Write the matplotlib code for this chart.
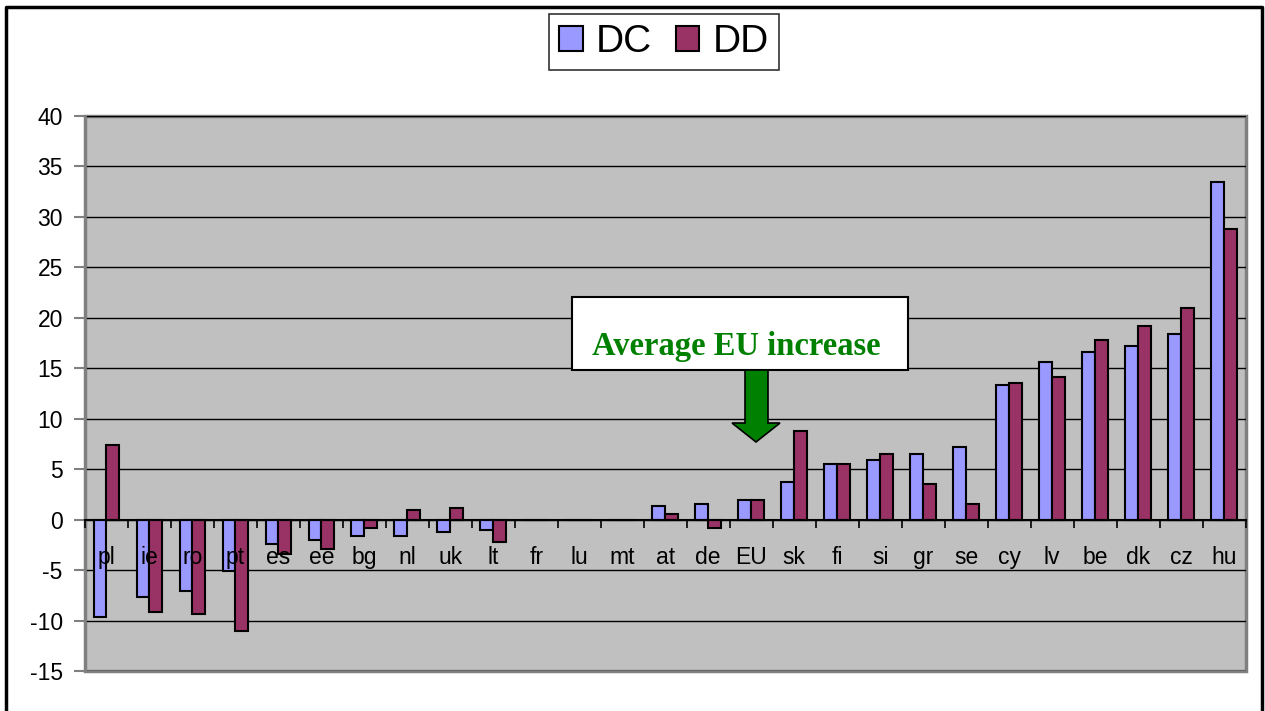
import numpy as np
import matplotlib
matplotlib.use("Agg")
import matplotlib.pyplot as plt
from matplotlib.patches import Rectangle, Polygon

plt.rcParams["axes.unicode_minus"] = False

# data
countries = ["pl", "ie", "ro", "pt", "es", "ee", "bg", "nl", "uk", "lt", "fr", "lu", "mt",
             "at", "de", "EU", "sk", "fi", "si", "gr", "se", "cy", "lv", "be", "dk", "cz", "hu"]
dc = [-9.6, -7.7, -7.1, -5.1, -2.4, -2.0, -1.6, -1.6, -1.2, -1.0, 0, 0, 0,
      1.35, 1.55, 1.95, 3.7, 5.5, 5.9, 6.5, 7.2, 13.3, 15.6, 16.6, 17.2, 18.4, 33.5]
dd = [7.4, -9.2, -9.4, -11.0, -3.4, -2.9, -0.8, 1.0, 1.2, -2.2, 0, 0, 0,
      0.56, -0.8, 1.95, 8.8, 5.5, 6.5, 3.5, 1.55, 13.5, 14.1, 17.8, 19.2, 21.0, 28.8]
series_names = ["DC", "DD"]
yticks = list(range(-15, 41, 5))
note = "Average EU increase"

W, H = 1265, 711
fig = plt.figure(figsize=(W / 100, H / 100), dpi=100)
fig.patch.set_facecolor("white")

def fx(px):
    return px / W

def fy(py):
    return 1 - py / H

ax = fig.add_axes([fx(85), fy(671), fx(1245.5) - fx(85), fy(116) - fy(671)])
ax.set_facecolor("#C0C0C0")
ax.patch.set_edgecolor("#808080")
ax.patch.set_linewidth(2.5)

x = np.arange(len(countries))
w = 0.3
ax.bar(x - w / 2, dc, w, color="#9999FF", edgecolor="black", linewidth=1.5, label=series_names[0], zorder=1)
ax.bar(x + w / 2, dd, w, color="#993366", edgecolor="black", linewidth=1.5, label=series_names[1], zorder=1)

ax.set_xlim(-0.5, len(countries) - 0.5)
ax.set_ylim(-15, 40)
ax.set_yticks(yticks)
ax.yaxis.grid(True, color="black", linewidth=1)
ax.yaxis.set_zorder(0.5)
ax.xaxis.set_zorder(3)

for s in ["top", "right"]:
    ax.spines[s].set_visible(False)
ax.spines["left"].set_color("#808080")
ax.spines["left"].set_linewidth(2)
ax.spines["bottom"].set_position(("data", 0))
ax.spines["bottom"].set_color("black")
ax.spines["bottom"].set_linewidth(1.5)

ax.set_xticks(x)
ax.set_xticklabels(countries, fontsize=16.5, family="Liberation Sans")
ax.set_xticks(np.arange(len(countries) + 1) - 0.5, minor=True)
ax.tick_params(axis="x", which="major", length=0, pad=19)
ax.tick_params(axis="x", which="minor", length=6, width=1.2, color="black", direction="out")
ax.tick_params(axis="y", length=8, width=1.5, color="#808080", pad=8, labelsize=16.5)
for lab in ax.get_yticklabels():
    lab.set_family("Liberation Sans")

leg = fig.legend(loc="center", bbox_to_anchor=(fx(664), fy(42)), ncol=2,
                 prop={"family": "Liberation Sans", "size": 28}, frameon=True, fancybox=False,
                 handlelength=0.6, handleheight=0.6, handletextpad=0.35, columnspacing=0.6,
                 borderpad=0.25, borderaxespad=0)
leg.get_frame().set_edgecolor("black")
leg.get_frame().set_linewidth(1.2)

# annotation box and arrow
fig.patches.append(Rectangle((fx(572), fy(370)), fx(908) - fx(572), fy(297) - fy(370),
                             transform=fig.transFigure, facecolor="white", edgecolor="black",
                             linewidth=1.5, zorder=5))
fig.text(fx(736), fy(346), note, ha="center", va="center", color="#008000", fontsize=23.5,
         fontweight="bold", family="Liberation Serif", zorder=6)
arrow = [(745, 370), (768, 370), (768, 423), (780, 423), (756, 442), (732, 423), (745, 423)]
fig.patches.append(Polygon([(fx(a), fy(b)) for a, b in arrow], closed=True, transform=fig.transFigure,
                           facecolor="#008000", edgecolor="black", linewidth=1.2, zorder=5))

# outer border (open at the bottom)
fig.add_artist(plt.Line2D([fx(5.5), fx(5.5), fx(1262), fx(1262)], [0, fy(7), fy(7), 0],
                          transform=fig.transFigure, color="black", linewidth=2.5))

fig.savefig("out.png", dpi=100)
